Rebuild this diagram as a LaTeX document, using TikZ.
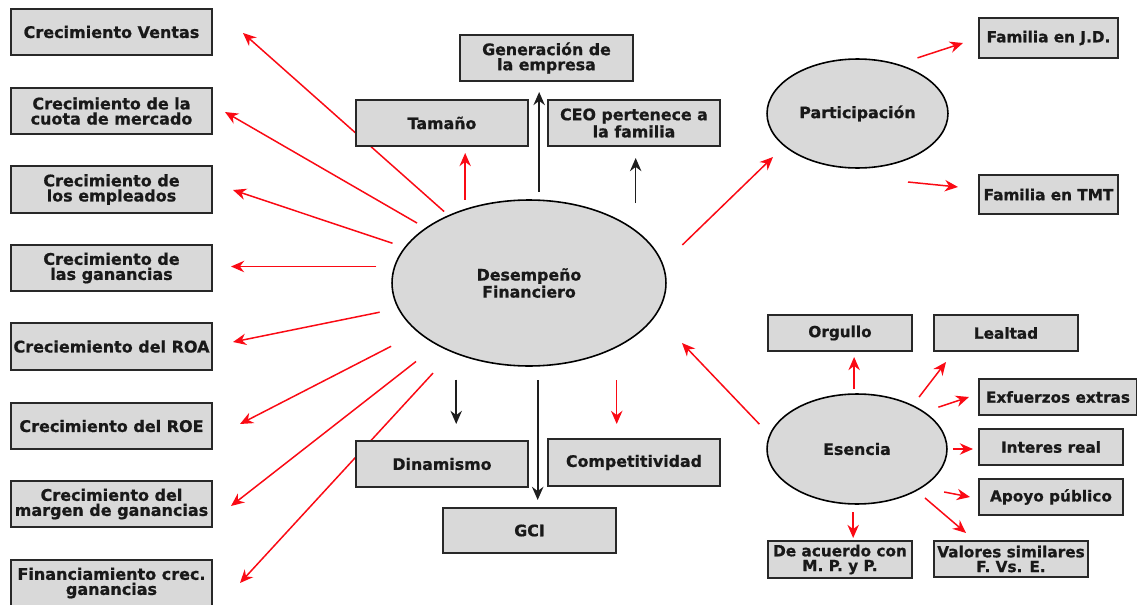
\documentclass[tikz,border=0pt]{standalone}
\usepackage{fontspec}
\newfontfamily\boxfont{DejaVu Sans}[BoldFeatures={FakeBold=0.8}]
\usetikzlibrary{arrows.meta,shapes.geometric,backgrounds}
\definecolor{boxfill}{RGB}{217,217,217}
\definecolor{boxline}{RGB}{40,40,40}
\definecolor{txt}{RGB}{25,25,25}
\definecolor{arrred}{RGB}{250,10,20}
\definecolor{arrblk}{RGB}{30,30,30}
\begin{document}
\begin{tikzpicture}[x=0.02cm,y=-0.02cm,
  lbl/.style={text=txt, align=center, inner sep=0pt, outer sep=0pt},
  box/.style={lbl, rectangle, draw=boxline, fill=boxfill, line width=1.1pt},
  leftbox/.style={box, minimum width=4.02cm, minimum height=0.92cm,
    font=\boxfont\bfseries\fontsize{9.1}{8.6}\selectfont},
  midbox/.style={box, minimum width=3.44cm, minimum height=0.92cm,
    font=\boxfont\bfseries\fontsize{9}{8.6}\selectfont},
  rbox/.style={box, minimum width=2.88cm, minimum height=0.72cm,
    font=\boxfont\bfseries\fontsize{8.7}{8.4}\selectfont},
  oval/.style={lbl, ellipse, draw=black, fill=boxfill, line width=0.9pt,
    font=\boxfont\bfseries\fontsize{9}{8.6}\selectfont},
  redarr/.style={draw=arrred, line width=0.85pt, -{Stealth[length=7.5pt,width=6.5pt]}},
  blkarr/.style={draw=arrblk, line width=0.85pt, -{Stealth[length=7.5pt,width=6.5pt]}},
]
\useasboundingbox (0,0) rectangle (1137,605);

% ---------- left column ----------
\node[leftbox] (ventas) at (111.5,32) {Crecimiento Ventas};
\node[leftbox] (cuota) at (111.5,111) {Crecimiento de la\\cuota de mercado};
\node[leftbox, minimum height=0.94cm] (empl) at (111.5,189.5) {Crecimiento de\\los empleados};
\node[leftbox] (gan) at (111.5,268) {Crecimiento de\\las ganancias};
\node[leftbox, minimum height=0.94cm] (roa) at (111.5,346.5) {Creciemiento del ROA};
\node[leftbox] (roe) at (111.5,426) {Crecimiento del ROE};
\node[leftbox] (marg) at (111.5,504) {Crecimiento del\\margen de ganancias};
\node[leftbox] (fin) at (111.5,583) {Financiamiento crec.\\ganancias};

% ---------- middle ----------
\node[midbox, minimum width=3.46cm] (gen) at (546.5,58) {Generación de\\la empresa};
\node[midbox] (tam) at (442,123) {Tamaño};
\node[midbox] (ceo) at (634,123) {CEO pertenece a\\la familia};
\node[midbox] (din) at (442,464) {Dinamismo};
\node[midbox, minimum height=0.94cm] (comp) at (634,462.5) {Competitividad};
\node[midbox, minimum width=3.46cm, minimum height=0.9cm] (gci) at (529.5,530.5) {GCI};

% ---------- ellipses ----------
\node[oval, minimum width=5.48cm, minimum height=3.32cm] (des) at (529,283) {Desempeño\\Financiero};
\node[oval, minimum width=3.62cm, minimum height=2.18cm] (part) at (857.5,113.5) {Participación};
\node[oval, minimum width=3.6cm, minimum height=2.2cm] (es) at (857,449) {Esencia};

% ---------- right ----------
\node[rbox, minimum width=2.78cm, minimum height=0.8cm] (jd) at (1048.5,38) {Familia en J.D.};
\node[rbox, minimum width=2.78cm, minimum height=0.78cm] (tmt) at (1048.5,194.5) {Familia en TMT};
\node[rbox] (org) at (840,333) {Orgullo};
\node[rbox] (lea) at (1006,333) {Lealtad};
\node[rbox, minimum width=3.16cm] (exf) at (1058,397) {Exfuerzos extras};
\node[rbox] (int) at (1051,447) {Interes real};
\node[rbox] (apo) at (1051,497) {Apoyo público};
\node[rbox, minimum height=0.74cm] (dea) at (840,559.5) {De acuerdo con\\M. P. y P.};
\node[rbox, minimum width=3.08cm] (val) at (1011,559) {Valores similares\\F. Vs. E.};

% ---------- arrow end points ----------
\coordinate (hV) at (243,33);
\coordinate (hCu) at (225,112);
\coordinate (hEm) at (233,190);
\coordinate (hGa) at (231,268);
\coordinate (hRoa) at (233,342);
\coordinate (hRoe) at (240,424);
\coordinate (hMa) at (231,506);
\coordinate (hFi) at (240,583);
\coordinate (hTam) at (465,153);
\coordinate (hGen) at (538,92);
\coordinate (hCeo) at (634,158);
\coordinate (hDin) at (457,424);
\coordinate (hGci) at (538,500);
\coordinate (hComp) at (617,424);
\coordinate (hPart) at (773,157);
\coordinate (hEsDes) at (682,343);
\coordinate (hJD) at (963,43);
\coordinate (tTMT) at (908,182);
\coordinate (hTMT) at (958,187);
\coordinate (hOrg) at (854,357);
\coordinate (hLea) at (946,362);
\coordinate (hExf) at (969,397);
\coordinate (hInt) at (973,448);
\coordinate (hApo) at (970,497);
\coordinate (hVal) at (966,533);
\coordinate (hDea) at (854,538);

\begin{scope}[on background layer]
  % Desempeno -> left column
  \draw[redarr, shorten <=3.6pt] (des.140.6) -- (hV);
  \draw[redarr, shorten <=5.9pt] (des.152.0) -- (hCu);
  \draw[redarr, shorten <=7.6pt] (des.164.4) -- (hEm);
  \draw[redarr, shorten <=10.4pt] (des.173.6) -- (des.173.6 -| hGa);
  \draw[redarr, shorten <=11pt] (des.191.4) -- (hRoa);
  \draw[redarr, shorten <=17.6pt] (des.204.6) -- (hRoe);
  \draw[redarr, shorten <=15.5pt] (des.214.6) -- (hMa);
  \draw[redarr, shorten <=16.4pt] (des.222.0) -- (hFi);
  % Desempeno -> top / bottom (vertical)
  \draw[redarr, shorten <=5.5pt] (des.131.1) -- (des.131.1 |- hTam);
  \draw[blkarr, shorten <=4.7pt] (des.83.8) -- (des.83.8 |- hGen);
  \draw[blkarr, shorten <=15.8pt] (des.26.9) -- (des.26.9 |- hCeo);
  \draw[blkarr, shorten <=15pt] (des.224.4) -- (des.224.4 |- hDin);
  \draw[blkarr, line width=1pt, shorten <=8.1pt] (des.276.2) -- (des.276.2 |- hGci);
  \draw[redarr, shorten <=19pt] (des.324.1) -- (des.324.1 |- hComp);
  % Desempeno -> Participacion, Esencia -> Desempeno
  \draw[redarr, shorten <=15.8pt] (des.8.5) -- (hPart);
  \draw[redarr, shorten <=8.7pt] (es.171.7) -- (hEsDes);
  % Participacion
  \draw[redarr, shorten <=12.2pt] (part.51.2) -- (hJD);
  \draw[redarr] (tTMT) -- (hTMT);
  % Esencia
  \draw[redarr, shorten <=2.8pt] (es.93.1) -- (es.93.1 |- hOrg);
  \draw[redarr, shorten <=6.2pt] (es.38.1) -- (hLea);
  \draw[redarr, shorten <=8.8pt] (es.29.3) -- (hExf);
  \draw[redarr, shorten <=3.4pt] (es.0.64) -- (es.0.64 -| hInt);
  \draw[redarr, shorten <=13.3pt] (es.-31.1) -- (hApo);
  \draw[redarr, shorten <=6.6pt] (es.-35.0) -- (hVal);
  \draw[redarr, shorten <=4.6pt] (es.266.9) -- (es.266.9 |- hDea);
\end{scope}
\end{tikzpicture}
\end{document}
